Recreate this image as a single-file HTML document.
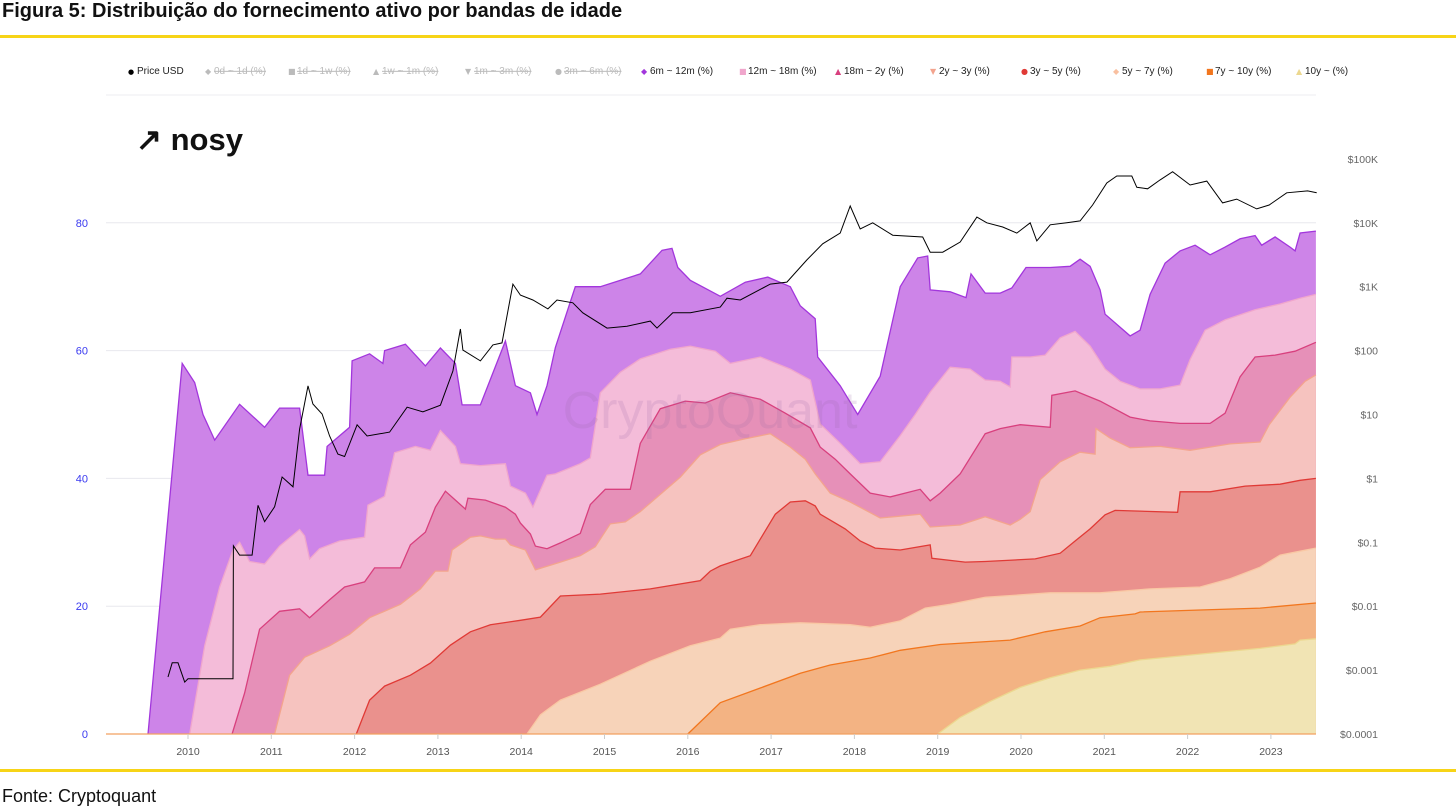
<!DOCTYPE html>
<html><head><meta charset="utf-8">
<style>
html,body{margin:0;padding:0;background:#fff;width:1456px;height:810px;overflow:hidden;font-family:"Liberation Sans",Arial,sans-serif}
#title{position:absolute;left:2px;top:0px;font-size:20px;font-weight:bold;color:#111;white-space:nowrap}
.yl{position:absolute;left:0;width:1456px;height:3px;background:#f7d417}
#src{position:absolute;left:2px;top:786px;font-size:18px;color:#111}
svg{position:absolute;left:0;top:0}
</style></head><body>
<div id="title">Figura 5: Distribuição do fornecimento ativo por bandas de idade</div>
<div class="yl" style="top:35px"></div>
<div class="yl" style="top:769px"></div>
<div id="src">Fonte: Cryptoquant</div>
<svg id="chart" width="1456" height="810"></svg>
<script>
const NS="http://www.w3.org/2000/svg";
const svg=document.getElementById('chart');

// ---- data ----
const tickYears=[2010,2011,2012,2013,2014,2015,2016,2017,2018,2019,2020,2021,2022,2023];
const leftTicks=[0,20,40,60,80];
const rightTicks=[0.0001,0.001,0.01,0.1,1,10,100,1000,10000,100000];
const rightLabels=["$0.0001","$0.001","$0.01","$0.1","$1","$10","$100","$1K","$10K","$100K"];

const d6m=[2009.52,2009.93,2010.08,2010.18,2010.32,2010.62,2010.92,2011.10,2011.34,2011.44,2011.64,2011.67,2011.94,2011.97,2012.18,2012.34,2012.36,2012.61,2012.85,2013.03,2013.21,2013.29,2013.51,2013.81,2013.93,2014.11,2014.19,2014.31,2014.41,2014.65,2014.95,2015.43,2015.55,2015.69,2015.81,2015.88,2016.03,2016.39,2016.69,2016.96,2017.23,2017.35,2017.53,2017.56,2017.83,2018.04,2018.31,2018.55,2018.76,2018.88,2018.91,2019.15,2019.34,2019.40,2019.57,2019.75,2019.89,2020.06,2020.35,2020.59,2020.71,2020.83,2020.95,2021.01,2021.31,2021.43,2021.55,2021.73,2021.91,2022.09,2022.27,2022.45,2022.63,2022.81,2022.89,2023.05,2023.23,2023.29,2023.35,2023.54];
const v6m=[0,58,55,50,46,51.6,48,51,51,40.5,40.5,45,48,58.4,59.5,58,60,61,57.6,60.4,58,51.5,51.5,61.5,54.5,53.4,50,54.5,60.5,70,70,72,73.7,75.7,76,73,71,68.5,70.7,71.5,70,67,65,59,54.5,50,56,70,74.5,74.8,69.5,69.2,68.3,72,69,69,69.8,73,73,73.2,74.3,73.2,69.5,65.7,62.3,63.2,68.8,73.7,75.6,76.5,75,76.2,77.5,78,76.5,77.8,76.2,75.6,78.4,78.7];

const d12m=[2010.02,2010.20,2010.38,2010.54,2010.62,2010.74,2010.92,2011.10,2011.34,2011.40,2011.46,2011.58,2011.82,2012.12,2012.16,2012.36,2012.48,2012.73,2012.91,2013.03,2013.21,2013.27,2013.51,2013.81,2013.87,2014.05,2014.14,2014.31,2014.41,2014.71,2014.83,2014.95,2015.19,2015.43,2015.79,2016.03,2016.33,2016.51,2016.87,2017.23,2017.47,2017.59,2017.83,2018.07,2018.31,2018.55,2018.73,2018.91,2019.15,2019.39,2019.57,2019.75,2019.87,2019.89,2020.11,2020.29,2020.47,2020.65,2020.83,2021.01,2021.19,2021.43,2021.67,2021.91,2022.03,2022.21,2022.45,2022.81,2023.11,2023.35,2023.54];
const v12m=[0,13.8,23,28.8,30,27,26.6,29.4,32,31,27.4,29,30.2,30.8,35.8,37.2,44,45,44.4,47.5,45,42.3,42,42.3,38.8,37.7,35.5,40.5,40.7,42.3,43.2,53.4,56.6,58.7,60.2,60.7,59.9,58,59,57.1,55.4,48.5,45.5,42.3,42.6,46.7,50,53.5,57.4,57.1,55.4,55.2,54.3,59,59,59.3,62,63,60.7,57.1,55.2,54,54,54.6,58.6,63.2,64.8,66.4,67.3,68.2,68.8];

const d18m=[2010.53,2010.68,2010.86,2011.10,2011.34,2011.46,2011.70,2011.88,2012.12,2012.24,2012.55,2012.67,2012.85,2012.97,2013.09,2013.21,2013.33,2013.36,2013.57,2013.81,2013.93,2013.99,2014.11,2014.17,2014.31,2014.47,2014.71,2014.83,2015.01,2015.31,2015.43,2015.67,2015.97,2016.21,2016.51,2016.87,2017.17,2017.47,2017.59,2017.77,2017.95,2018.19,2018.43,2018.79,2018.91,2019.03,2019.27,2019.57,2019.75,2019.99,2020.35,2020.37,2020.65,2020.95,2021.31,2021.55,2021.91,2022.27,2022.45,2022.63,2022.81,2023.05,2023.29,2023.54];
const v18m=[0,6.4,16.4,19.2,19.6,18.2,21,23,23.8,26,26,29.6,31.6,35.5,38,36.6,35.2,36.9,36.6,35.5,34.4,33,31.3,29.4,29,29.9,31.4,35.9,38.3,38.3,45.5,50.9,52.1,51.8,53.4,52.4,50.2,47.9,44.9,43,40.7,37.7,37.1,38.3,36.5,37.7,40.7,47,47.8,48.4,48,53,53.7,52.1,49.6,49,48.6,48.6,50.2,55.9,59,59.3,59.9,61.3];

const d2y=[2011.04,2011.22,2011.40,2011.70,2011.94,2012.18,2012.55,2012.79,2012.97,2013.12,2013.17,2013.39,2013.51,2013.69,2013.81,2013.87,2014.05,2014.17,2014.47,2014.71,2014.89,2015.07,2015.25,2015.43,2015.91,2016.15,2016.39,2016.69,2016.99,2017.23,2017.41,2017.53,2017.71,2017.95,2018.31,2018.79,2018.91,2019.27,2019.57,2019.87,2019.99,2020.11,2020.23,2020.47,2020.71,2020.89,2020.90,2021.07,2021.31,2021.67,2022.03,2022.51,2022.87,2022.98,2023.23,2023.41,2023.54];
const v2y=[0,9.2,12,13.8,15.6,18.2,20.3,22.7,25.5,25.5,28.8,30.8,31,30.5,30.5,29.6,28.8,25.7,26.9,27.9,29.3,32.9,33.2,34.8,40.2,43.7,45.3,46.2,47,44.9,43,40.7,37.7,36.3,33.8,34.4,32.4,32.7,34,32.7,33.6,34.8,39.8,42.6,44.1,43.8,47.8,46.3,44.8,45,44.4,45.4,45.7,48.4,52.7,55.2,56.2];

const d3y=[2012.02,2012.18,2012.36,2012.67,2012.91,2013.15,2013.39,2013.63,2013.99,2014.23,2014.47,2014.95,2015.55,2016.15,2016.27,2016.39,2016.75,2016.87,2017.05,2017.23,2017.41,2017.53,2017.59,2017.89,2018.07,2018.25,2018.55,2018.91,2018.93,2019.33,2019.57,2020.17,2020.47,2020.65,2020.83,2021.01,2021.13,2021.88,2021.91,2022.27,2022.69,2023.11,2023.35,2023.54];
const v3y=[0,5.3,7.5,9.2,11.1,13.9,16,17.1,17.8,18.3,21.6,21.9,22.7,24,25.5,26.3,27.9,30.5,34.4,36.3,36.5,35.7,34.4,32.1,30.2,29.1,28.8,29.6,27.5,26.9,27,27.4,28.3,30.2,32.1,34.3,35,34.7,37.9,37.9,38.8,39.1,39.7,40];

const d5y=[2014.07,2014.23,2014.47,2014.95,2015.55,2016.03,2016.39,2016.51,2016.87,2017.35,2017.95,2018.19,2018.55,2018.85,2019.15,2019.57,2020.35,2020.95,2021.55,2022.15,2022.51,2022.87,2023.11,2023.35,2023.54];
const v5y=[0,3,5.3,7.8,11.4,13.8,15,16.4,17.1,17.4,17.1,16.7,17.7,19.7,20.3,21.4,22.1,22.1,22.7,23,24.3,26.1,28,28.6,29.1];

const d7y=[2016.00,2016.39,2016.87,2017.35,2017.71,2018.19,2018.55,2019.03,2019.87,2020.29,2020.71,2020.95,2021.37,2021.43,2022.15,2022.87,2023.54];
const v7y=[0,4.9,7.2,9.5,10.8,11.9,13.1,14,14.7,16,16.9,18.2,18.8,19.1,19.4,19.7,20.5];

const d10y=[2019.00,2019.27,2019.63,2019.99,2020.35,2020.71,2021.07,2021.43,2022.15,2022.87,2023.29,2023.35,2023.54];
const v10y=[0,2.6,5.1,7.3,8.8,10,10.6,11.6,12.5,13.4,14.1,14.7,14.9];

const priceDates=[2009.76,2009.81,2009.88,2009.96,2010.00,2010.54,2010.545,2010.62,2010.77,2010.84,2010.92,2011.04,2011.13,2011.26,2011.34,2011.44,2011.50,2011.61,2011.70,2011.80,2011.88,2012.03,2012.15,2012.42,2012.63,2012.82,2013.03,2013.18,2013.27,2013.30,2013.51,2013.66,2013.77,2013.90,2013.99,2014.14,2014.32,2014.43,2014.62,2014.74,2015.03,2015.27,2015.55,2015.63,2015.82,2016.03,2016.39,2016.47,2016.63,2016.99,2017.19,2017.43,2017.62,2017.83,2017.95,2018.07,2018.22,2018.46,2018.82,2018.91,2019.06,2019.27,2019.47,2019.59,2019.78,2019.95,2020.11,2020.19,2020.35,2020.55,2020.71,2020.86,2021.03,2021.15,2021.33,2021.39,2021.52,2021.67,2021.82,2022.03,2022.23,2022.42,2022.59,2022.83,2022.98,2023.19,2023.44,2023.55];
const priceUSD=[0.00078,0.0013,0.0013,0.00065,0.00073,0.00073,0.088,0.063,0.063,0.38,0.21,0.36,1.05,0.74,5.9,28,14.6,10.2,4.6,2.4,2.2,6.9,4.6,5.3,13,11,14,48,218,102,69,123,132,1100,740,620,450,620,560,390,225,240,290,225,390,390,480,660,620,1100,1180,2630,4700,6900,18300,8000,10000,6400,6000,3470,3470,5000,12300,10000,8600,6900,10000,5200,9300,10000,10700,19000,42000,54000,54000,36000,34000,47000,63000,39000,45000,20500,23500,16500,19000,29500,31600,29500];

// ---- scales ----
const X=yr=>188+(yr-2010)*83.3;
const YL=v=>734-v*6.39;
const YR=p=>734-(Math.log10(p)+4)*63.9;

function mk(tag,attrs,parent){const e=document.createElementNS(NS,tag);for(const k in attrs)e.setAttribute(k,attrs[k]);(parent||svg).appendChild(e);return e;}

// gridlines
mk('line',{x1:106,x2:1316,y1:95,y2:95,stroke:'#ececf2','stroke-width':1});
leftTicks.forEach(t=>{
  if(t>0){const g=mk('line',{x1:106,x2:1316,y1:YL(t),y2:YL(t),stroke:'#e8e8ee','stroke-width':1});
  
  }
  const tx=mk('text',{x:88,y:YL(t)+4,'text-anchor':'end','font-size':11,fill:'#3a3af0','font-family':'Liberation Sans, Arial, sans-serif'});
  tx.textContent=t;
  
  
});
rightTicks.forEach((p,i)=>{
  const tx=mk('text',{x:1378,y:YR(p)+4,'text-anchor':'end','font-size':10.5,fill:'#666','font-family':'Liberation Sans, Arial, sans-serif'});
  tx.textContent=rightLabels[i];
  
  
});

// areas (painter's order, cumulative tops)
const bands=[
 ['6m-12m',d6m,v6m,'#cd84e8','#a236dc'],
 ['12m-18m',d12m,v12m,'#f4bcd9','#f0a6cc'],
 ['18m-2y',d18m,v18m,'#e690b8','#d8407e'],
 ['2y-3y',d2y,v2y,'#f6c3bf','#f3a48e'],
 ['3y-5y',d3y,v3y,'#ea918d','#e03a36'],
 ['5y-7y',d5y,v5y,'#f7d3b9','#f9c8a4'],
 ['7y-10y',d7y,v7y,'#f3b383','#f2761e'],
 ['10y',d10y,v10y,'#f1e4b4','#ecd890']
];
bands.forEach(b=>{
  const [nm,ds,vs,fill,stroke]=b;
  let pts=ds.map((d,i)=>X(d).toFixed(1)+','+YL(vs[i]).toFixed(1));
  const poly='M'+X(ds[0]).toFixed(1)+','+YL(0)+' L'+pts.join(' L')+' L'+X(ds[ds.length-1]).toFixed(1)+','+YL(0)+' Z';
  const a=mk('path',{d:poly,fill:fill,stroke:'none'});
  
  
  const l=mk('path',{d:'M'+pts.join(' L'),fill:'none',stroke:stroke,'stroke-width':1.3});
  
  
});

// watermark
const wm=mk('text',{x:710,y:428,'text-anchor':'middle','font-size':52,fill:'#9a6aa8','fill-opacity':0.18,'font-family':'Liberation Sans, Arial, sans-serif'});
wm.textContent='CryptoQuant';



// baseline
mk('line',{x1:106,x2:1316,y1:734,y2:734,stroke:'#f2a060','stroke-width':1.2});
tickYears.forEach(y=>{
  mk('line',{x1:X(y),x2:X(y),y1:734,y2:739,stroke:'#ccc'});
  const tx=mk('text',{x:X(y),y:755,'text-anchor':'middle','font-size':10.5,fill:'#555','font-family':'Liberation Sans, Arial, sans-serif'});
  tx.textContent=y;
  
  
});

// price line
const pp=priceDates.map((d,i)=>X(d).toFixed(1)+','+YR(priceUSD[i]).toFixed(1));
const pl=mk('path',{d:'M'+pp.join(' L'),fill:'none',stroke:'#000','stroke-width':1});



// logo
const lg=mk('text',{x:136,y:150,'font-size':31,'font-weight':'bold',fill:'#111','font-family':'Liberation Sans, Arial, sans-serif'});
lg.textContent='\u2197 nosy';



// legend
const legNames=['Price USD','0d ~ 1d (%)','1d ~ 1w (%)','1w ~ 1m (%)','1m ~ 3m (%)','3m ~ 6m (%)','6m ~ 12m (%)','12m ~ 18m (%)','18m ~ 2y (%)','2y ~ 3y (%)','3y ~ 5y (%)','5y ~ 7y (%)','7y ~ 10y (%)','10y ~ (%)'];
const legX=[128,205,288,373,465,555,641,739,835,930,1021,1113,1206,1296];
const legCol=['#000','#bbb','#bbb','#bbb','#bbb','#bbb','#a236dc','#f0a6cc','#d8407e','#f3a48e','#e03a36','#f9c0a0','#f2761e','#ecd890'];
const legSym=['●','◆','■','▲','▼','●','◆','■','▲','▼','●','◆','■','▲'];
legNames.forEach((n,i)=>{
  const g=mk('g',{});
  
  
  const s=mk('text',{x:legX[i],y:74,'font-size':i==0?7:8,fill:legCol[i],'font-family':'DejaVu Sans, sans-serif'},g);
  s.textContent=legSym[i];
  const off=(i>=1&&i<=5);
  const t=mk('text',{x:legX[i]+9,y:74,'font-size':10,fill:off?'#bbb':'#222','font-family':'Liberation Sans, Arial, sans-serif','text-decoration':off?'line-through':'none'},g);
  t.textContent=n;
});
</script>
</body></html>
